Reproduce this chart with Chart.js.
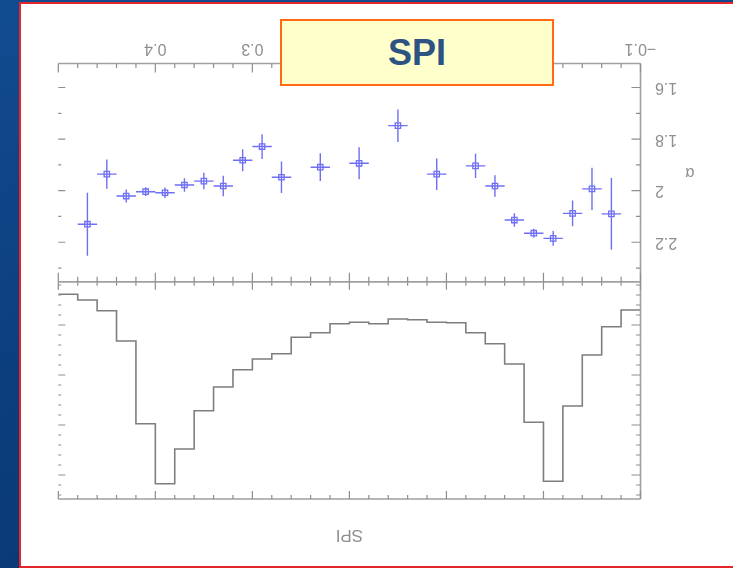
<!DOCTYPE html>
<html>
<head>
<meta charset="utf-8">
<script src="https://cdn.jsdelivr.net/npm/chart.js@4/dist/chart.umd.min.js"></script>
<style>
  html, body { margin: 0; padding: 0; }
  body {
    width: 733px; height: 568px; overflow: hidden; position: relative;
    background: linear-gradient(170deg, #124c90 0%, #0c3f7f 50%, #0a3872 100%);
    font-family: 'Liberation Sans', Arial, sans-serif;
  }
  #slide {
    position: absolute; left: 19px; top: 2px; width: 716px; height: 566px;
    box-sizing: border-box; background: #ffffff; border: 2px solid #e3262b;
  }
  #rot {
    position: absolute; left: 0; top: 0; width: 733px; height: 568px;
    transform: rotate(180deg);
  }
  #rot canvas { position: absolute; left: 0; top: 0; }
  #spi {
    position: absolute; left: 280px; top: 19px; width: 274px; height: 67px;
    box-sizing: border-box; background: #ffffcc; border: 2px solid #ff6a13;
    color: #2d5383; font: bold 36px 'Liberation Sans', Arial, sans-serif;
    display: flex; align-items: center; justify-content: center;
  }
</style>
</head>
<body>
<div id="slide"></div>
<div id="rot">
  <canvas id="cProfile" width="733" height="568"></canvas>
  <canvas id="cAlpha" width="733" height="568"></canvas>
</div>
<div id="spi">SPI</div>
<script>
// ---------- data (pulse phase) ----------
const profilePhase = [-0.1, -0.08, -0.06, -0.04, -0.02, 0, 0.02, 0.04, 0.06, 0.08,
  0.1, 0.12, 0.14, 0.16, 0.18, 0.2, 0.22, 0.24, 0.26, 0.28,
  0.3, 0.32, 0.34, 0.36, 0.38, 0.4, 0.42, 0.44, 0.46, 0.48, 0.5];
const profileCounts = [3.5, 5.17, 8.0, 13.1, 20.63, 14.73, 8.9, 6.87, 5.77, 4.77,
  4.73, 4.47, 4.4, 4.87, 4.73, 4.87, 5.77, 6.23, 7.87, 8.4,
  9.47, 11.2, 13.57, 17.4, 20.87, 14.87, 6.6, 3.57, 2.5, 1.93, 1.93];

const alphaPhase = [-0.07, -0.05, -0.03, -0.01, 0.01, 0.03, 0.05, 0.07, 0.11, 0.15,
  0.19, 0.23, 0.27, 0.29, 0.31, 0.33, 0.35, 0.37, 0.39, 0.41, 0.43, 0.45, 0.47];
const alphaValue = [2.090, 1.993, 2.088, 2.185, 2.165, 2.114, 1.982, 1.904, 1.936, 1.748,
  1.894, 1.909, 1.948, 1.829, 1.882, 1.982, 1.963, 1.978, 2.008, 2.004, 2.021, 1.936, 2.130];
const alphaError = [0.139, 0.082, 0.050, 0.029, 0.017, 0.026, 0.042, 0.047, 0.061, 0.063,
  0.062, 0.054, 0.061, 0.048, 0.043, 0.040, 0.032, 0.026, 0.020, 0.017, 0.025, 0.057, 0.122];
const phaseHalfWidth = [0.01, 0.01, 0.01, 0.01, 0.01, 0.01, 0.01, 0.01, 0.01, 0.01,
  0.01, 0.01, 0.01, 0.01, 0.01, 0.01, 0.01, 0.01, 0.01, 0.01, 0.01, 0.01, 0.01];

// ---------- ticks ----------
const xLabelValues = [-0.1, 0, 0.1, 0.2, 0.3, 0.4];
const xLabelTexts = ['\u22120.1', '0', '0.1', '0.2', '0.3', '0.4'];
const xMajor = [-0.1, 0, 0.1, 0.2, 0.3, 0.4, 0.5];
const xMinor = [-0.08, -0.06, -0.04, -0.02, 0.02, 0.04, 0.06, 0.08, 0.12, 0.14, 0.16, 0.18,
  0.22, 0.24, 0.26, 0.28, 0.32, 0.34, 0.36, 0.38, 0.42, 0.44, 0.46, 0.48];
const alphaMajor = [1.6, 1.8, 2.0, 2.2];
const alphaLabels = ['1.6', '1.8', '2', '2.2'];
const alphaMinor = [1.7, 1.9, 2.1, 2.3];
const profMajor = [5, 10, 15, 20];
const profMinor = [1, 2, 3, 4, 6, 7, 8, 9, 11, 12, 13, 14, 16, 17, 18, 19, 21, 22];

const AXIS = '#a0a0a0', TICK = '#8e8e8e', LABEL = '#8f8f8f', BLUE = '#6f6ff4';

// ---------- frame plugin: axis lines + inward ticks ----------
const framePlugin = {
  id: 'frame',
  afterDraw(chart, args, cfg) {
    const {ctx, chartArea: a, scales} = chart;
    const xs = scales.x, ys = scales.y;
    ctx.save();
    ctx.strokeStyle = AXIS; ctx.lineWidth = 1.6; ctx.lineCap = 'butt';
    ctx.beginPath();
    (cfg.lines || []).forEach(s => {
      if (s === 'top') { ctx.moveTo(a.left, a.top); ctx.lineTo(a.right, a.top); }
      if (s === 'bottom') { ctx.moveTo(a.left, a.bottom); ctx.lineTo(a.right, a.bottom); }
      if (s === 'left') { ctx.moveTo(a.left, a.top); ctx.lineTo(a.left, a.bottom); }
    });
    ctx.stroke();
    ctx.strokeStyle = TICK; ctx.lineWidth = 1.2;
    ctx.beginPath();
    (cfg.xTicks || []).forEach(t => {
      [[cfg.xMajor, t.major], [cfg.xMinor, t.minor]].forEach(([vals, len]) => {
        vals.forEach(v => {
          const px = xs.getPixelForValue(v);
          if (t.side === 'bottom') { ctx.moveTo(px, a.bottom); ctx.lineTo(px, a.bottom - len); }
          else { ctx.moveTo(px, a.top); ctx.lineTo(px, a.top + len); }
        });
      });
    });
    (cfg.yTicks || []).forEach(t => {
      [[cfg.yMajor, t.major], [cfg.yMinor, t.minor]].forEach(([vals, len]) => {
        vals.forEach(v => {
          const py = ys.getPixelForValue(v);
          if (t.side === 'left') { ctx.moveTo(a.left, py); ctx.lineTo(a.left + len, py); }
          else { ctx.moveTo(a.right, py); ctx.lineTo(a.right - len, py); }
        });
      });
    });
    ctx.stroke();
    if (cfg.yTitle) {
      ctx.fillStyle = LABEL;
      ctx.font = '16px "Liberation Sans", Arial, sans-serif';
      ctx.textAlign = 'center'; ctx.textBaseline = 'middle';
      ctx.fillText(cfg.yTitle, a.left - 49.5, (a.top + a.bottom) / 2);
    }
    ctx.restore();
  }
};

// ---------- error bar plugin ----------
const errorBarPlugin = {
  id: 'errbars',
  beforeDatasetsDraw(chart) {
    const {ctx, scales: {x, y}} = chart;
    ctx.save();
    ctx.strokeStyle = BLUE; ctx.lineWidth = 1.4;
    ctx.beginPath();
    alphaPhase.forEach((p, i) => {
      const px = x.getPixelForValue(p), py = y.getPixelForValue(alphaValue[i]);
      ctx.moveTo(x.getPixelForValue(p - phaseHalfWidth[i]), py);
      ctx.lineTo(x.getPixelForValue(p + phaseHalfWidth[i]), py);
      ctx.moveTo(px, y.getPixelForValue(alphaValue[i] - alphaError[i]));
      ctx.lineTo(px, y.getPixelForValue(alphaValue[i] + alphaError[i]));
    });
    ctx.stroke();
    ctx.restore();
  }
};

Chart.defaults.font.family = '"Liberation Sans", Arial, sans-serif';
Chart.defaults.animation = false;

const hiddenGrid = { display: false, drawTicks: false };

// ---------- profile panel (top in unrotated frame) ----------
new Chart(document.getElementById('cProfile'), {
  type: 'line',
  data: {
    datasets: [{
      data: profilePhase.map((p, i) => ({ x: p, y: profileCounts[i] })),
      stepped: 'before',
      borderColor: '#7e7e7e', borderWidth: 1.6,
      pointRadius: 0, fill: false
    }]
  },
  plugins: [framePlugin],
  options: {
    responsive: false, devicePixelRatio: 1,
    layout: { autoPadding: false, padding: { left: 0, top: 0, right: 58.3, bottom: 281.7 } },
    plugins: {
      legend: { display: false }, tooltip: { enabled: false },
      frame: {
        lines: ['top', 'left', 'bottom'],
        xMajor, xMinor, yMajor: profMajor, yMinor: profMinor,
        xTicks: [{ side: 'top', major: 8, minor: 4 }, { side: 'bottom', major: 8, minor: 4 }],
        yTicks: [{ side: 'left', major: 9, minor: 4.5 }, { side: 'right', major: 7, minor: 3 }]
      }
    },
    scales: {
      x: {
        type: 'linear', position: 'top', min: -0.1, max: 0.5,
        grid: hiddenGrid, border: { display: false },
        ticks: { display: false },
        title: { display: true, text: 'SPI', color: LABEL,
          font: { size: 17 }, padding: { top: 23, bottom: 0 } },
        afterFit(s) { s.height = 69; }
      },
      y: {
        type: 'linear', position: 'left', min: 0.67, max: 22.4,
        grid: hiddenGrid, border: { display: false },
        ticks: { display: false },
        afterFit(s) { s.width = 92.5; }
      }
    }
  }
});

// ---------- alpha panel (bottom in unrotated frame) ----------
new Chart(document.getElementById('cAlpha'), {
  type: 'scatter',
  data: {
    datasets: [{
      data: alphaPhase.map((p, i) => ({ x: p, y: alphaValue[i] })),
      pointStyle: 'rect', pointRadius: 3.8,
      borderColor: BLUE, borderWidth: 1.3,
      backgroundColor: 'rgba(0,0,0,0)'
    }]
  },
  plugins: [errorBarPlugin, framePlugin],
  options: {
    responsive: false, devicePixelRatio: 1,
    layout: { autoPadding: false, padding: { left: 0, top: 286.3, right: 58.3, bottom: 0 } },
    plugins: {
      legend: { display: false }, tooltip: { enabled: false },
      frame: {
        lines: ['top', 'bottom', 'left'],
        xMajor, xMinor, yMajor: alphaMajor, yMinor: alphaMinor,
        xTicks: [{ side: 'bottom', major: 9, minor: 4.5 }, { side: 'top', major: 9, minor: 5 }],
        yTicks: [{ side: 'left', major: 9, minor: 4.5 }, { side: 'right', major: 7, minor: 3 }],
        yTitle: '\u03b1'
      }
    },
    scales: {
      x: {
        type: 'linear', position: 'bottom', min: -0.1, max: 0.5,
        grid: hiddenGrid, border: { display: false },
        afterBuildTicks(s) { s.ticks = xLabelValues.map(v => ({ value: v })); },
        ticks: {
          autoSkip: false, maxRotation: 0, padding: 5, color: LABEL,
          font: { size: 16 },
          callback: (v) => { const i = xLabelValues.findIndex(t => Math.abs(t - v) < 1e-9); return i >= 0 ? xLabelTexts[i] : ''; }
        },
        afterFit(s) { s.height = 63.5; }
      },
      y: {
        type: 'linear', position: 'left', min: 1.507, max: 2.353,
        grid: hiddenGrid, border: { display: false },
        afterBuildTicks(s) { s.ticks = alphaMajor.map(v => ({ value: v })); },
        ticks: {
          autoSkip: false, padding: 14.5, color: LABEL,
          font: { size: 16 },
          callback: (v) => { const i = alphaMajor.findIndex(t => Math.abs(t - v) < 1e-9); return i >= 0 ? alphaLabels[i] : ''; }
        },
        afterFit(s) { s.width = 92.5; }
      }
    }
  }
});
</script>
</body>
</html>
